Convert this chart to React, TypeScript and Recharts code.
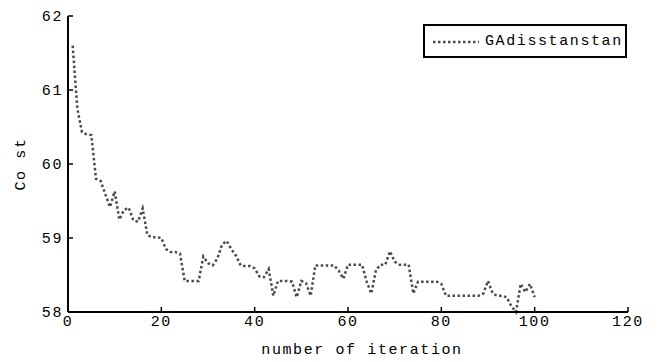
import React from "react";
import { Legend, Line, LineChart, XAxis, YAxis } from "recharts";

// cost per iteration (iterations 1..100)
const cost = [
  61.6, 60.75, 60.43, 60.4, 60.39, 59.8, 59.77, 59.59, 59.42, 59.63,
  59.25, 59.38, 59.41, 59.24, 59.22, 59.4, 59.04, 59.01, 59.01, 59.0,
  58.85, 58.81, 58.81, 58.79, 58.42, 58.42, 58.42, 58.42, 58.75, 58.66,
  58.63, 58.72, 58.91, 58.96, 58.85, 58.76, 58.63, 58.62, 58.62, 58.59,
  58.48, 58.47, 58.58, 58.22, 58.42, 58.42, 58.42, 58.41, 58.2, 58.42,
  58.39, 58.22, 58.63, 58.63, 58.63, 58.63, 58.63, 58.56, 58.45, 58.64,
  58.64, 58.64, 58.64, 58.41, 58.25, 58.57, 58.64, 58.64, 58.82, 58.68,
  58.64, 58.64, 58.64, 58.25, 58.41, 58.41, 58.41, 58.41, 58.41, 58.38,
  58.22, 58.22, 58.22, 58.22, 58.22, 58.22, 58.22, 58.22, 58.25, 58.42,
  58.25, 58.22, 58.22, 58.2, 58.08, 58.0, 58.38, 58.27, 58.38, 58.2,
];
const xTicks = [0, 20, 40, 60, 80, 100, 120];
const yTicks = [58, 59, 60, 61, 62];
const seriesName = "GAdisstanstan";

const data = cost.map((c, i) => ({ iter: i + 1, cost: c }));

const FONT = "'Liberation Mono', 'DejaVu Sans Mono', monospace";
const tickStyle = { fill: "#000", fontFamily: FONT, fontSize: 15, letterSpacing: 1.6 };
const axisLine = { stroke: "#000", strokeWidth: 2 };
const tickLine = { stroke: "#000", strokeWidth: 1.5 };
const LINE = "#4a4a4a";

function LegendBox() {
  return (
    <div
      style={{
        width: 200,
        height: 30,
        border: "2px solid #000",
        background: "#fff",
        overflow: "hidden",
        display: "flex",
        alignItems: "center",
        whiteSpace: "nowrap",
        fontFamily: FONT,
        fontSize: 15,
        letterSpacing: 1.6,
        color: "#000",
      }}
    >
      <svg width={60} height={30} style={{ flex: "none" }}>
        <line x1={8} y1={16} x2={54} y2={16} stroke={LINE} strokeWidth={2.5} strokeDasharray="2.5 2.5" />
      </svg>
      <span>{seriesName}</span>
    </div>
  );
}

function XLabel(props: any) {
  const vb = props.viewBox;
  return (
    <text
      x={vb.x + vb.width / 2 + 14}
      y={354}
      textAnchor="middle"
      fill="#000"
      fontFamily={FONT}
      fontSize={15}
      letterSpacing={1.6}
    >
      number of iteration
    </text>
  );
}

export default function App() {
  return (
    <div style={{ position: "absolute", left: 0, top: 0, width: 664, height: 362, background: "#fff" }}>
      <LineChart
        width={664}
        height={362}
        data={data}
        margin={{ top: 16, right: 36, bottom: 0, left: 0 }}
      >
        <XAxis
          xAxisId="b"
          dataKey="iter"
          type="number"
          domain={[0, 120]}
          ticks={xTicks}
          height={50}
          axisLine={axisLine}
          tickLine={tickLine}
          tickSize={-5}
          tickMargin={8}
          tick={tickStyle}
          label={<XLabel />}
        />
        <XAxis
          xAxisId="t"
          orientation="top"
          dataKey="iter"
          type="number"
          domain={[0, 120]}
          ticks={xTicks}
          height={0}
          axisLine={axisLine}
          tickLine={tickLine}
          tickSize={-5}
          tick={false}
        />
        <YAxis
          yAxisId="l"
          type="number"
          domain={[58, 62]}
          ticks={yTicks}
          width={68}
          axisLine={axisLine}
          tickLine={tickLine}
          tickSize={-5}
          tickMargin={10}
          tick={tickStyle}
          label={{
            value: "Co st",
            angle: -90,
            position: "insideLeft",
            offset: 20,
            style: { fill: "#000", fontFamily: FONT, fontSize: 15, letterSpacing: 1.6, textAnchor: "middle" },
          }}
        />
        <YAxis
          yAxisId="r"
          orientation="right"
          type="number"
          domain={[58, 62]}
          ticks={yTicks}
          width={0}
          axisLine={axisLine}
          tickLine={tickLine}
          tickSize={-5}
          tick={false}
        />
        <Legend
          layout="vertical"
          align="center"
          verticalAlign="middle"
          content={<LegendBox />}
          wrapperStyle={{ left: 423, top: 24, width: 204, height: 34 }}
        />
        <Line
          xAxisId="b"
          yAxisId="l"
          type="linear"
          dataKey="cost"
          name={seriesName}
          stroke={LINE}
          strokeWidth={2.5}
          strokeDasharray="2.5 2.5"
          dot={false}
          isAnimationActive={false}
        />
      </LineChart>
    </div>
  );
}
